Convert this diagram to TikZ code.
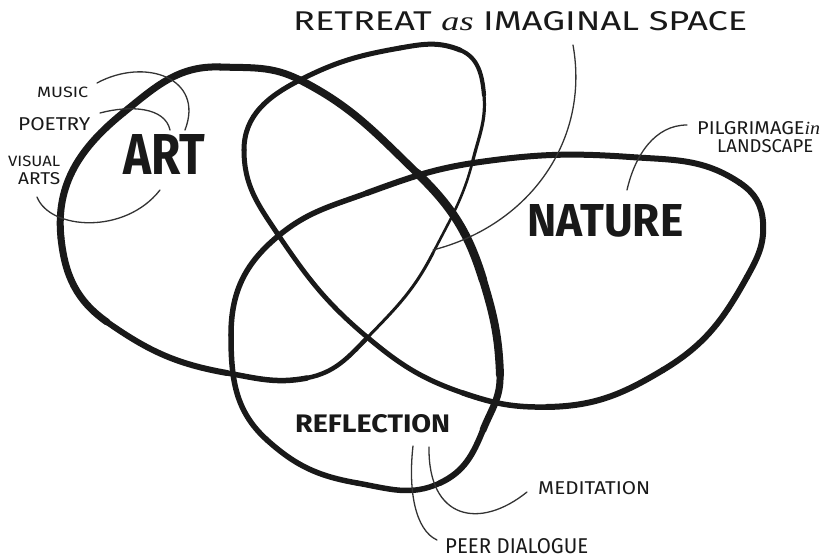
\documentclass[tikz,border=0pt]{standalone}
\usepackage{fontspec}
\setmainfont{Fira Sans}
\newfontfamily\cursivef{Liberation Serif}
\usepackage{graphicx}
\begin{document}
\begin{tikzpicture}[x=1pt,y=1pt,
  loopline/.style={line width=#1, line cap=round, draw=black!90},
  callout/.style={line width=1.3pt, draw=black!80, line cap=round},
  lbl/.style={inner sep=0pt, anchor=base west, text=black!90}]
\useasboundingbox (0,0) rectangle (823,560);
\fill[white] (0,0) rectangle (823,560);
% points of the single four-lobed curve
\coordinate (A1) at (61,322);
\coordinate (A2) at (107,238);
\coordinate (A3) at (227,187);
\coordinate (A4) at (307,182);
\coordinate (A5) at (367,222);
\coordinate (T1) at (433,307);
\coordinate (T2) at (473,400);
\coordinate (T3) at (484,465);
\coordinate (T4) at (460,510);
\coordinate (T5) at (400,512);
\coordinate (T6) at (300,480);
\coordinate (T7) at (244,410);
\coordinate (T8) at (277,327);
\coordinate (T9) at (367,223);
\coordinate (N1) at (463,167);
\coordinate (N2) at (547,153);
\coordinate (N3) at (663,190);
\coordinate (N4) at (747,283);
\coordinate (N5) at (763,338);
\coordinate (N6) at (740,377);
\coordinate (N7) at (630,403);
\coordinate (N8) at (480,398);
\coordinate (N9) at (367,367);
\coordinate (N10) at (277,323);
\coordinate (R1) at (231,225);
\coordinate (R2) at (267,120);
\coordinate (R3) at (357,77);
\coordinate (R4) at (440,77);
\coordinate (R5) at (483,130);
\coordinate (D1) at (500,185);
\coordinate (D2) at (483,280);
\coordinate (D3) at (417,387);
\coordinate (D4) at (300,480);
\coordinate (A6) at (220,493);
\coordinate (A7) at (123,447);
% curve segments
\draw[loopline=7pt] (A1) to[out=276,in=145] (A2);
\draw[loopline=6pt] (A2) to[out=-35,in=170] (A3);
\draw[loopline=5.5pt] (A3) to[out=-10,in=191] (A4);
\draw[loopline=4.5pt] (A4) to[out=11,in=226] (A5);
\draw[loopline=3pt] (A5) to[out=46,in=243] (T1);
\draw[loopline=2.6pt] (T1) to[out=63,in=256] (T2);
\draw[loopline=3.2pt] (T2) to[out=76,in=275] (T3);
\draw[loopline=4.2pt] (T3) to[out=95,in=338] (T4);
\draw[loopline=5pt] (T4) to[out=158,in=10] (T5);
\draw[loopline=5pt] (T5) to[out=190,in=27] (T6);
\draw[loopline=5pt] (T6) to[out=207,in=90] (T7);
\draw[loopline=5pt] (T7) to[out=270,in=124] (T8);
\draw[loopline=4.8pt] (T8) to[out=-56,in=140] (T9);
\draw[loopline=5pt] (T9) to[out=-40,in=161] (N1);
\draw[loopline=5.5pt] (N1) to[out=-19,in=181] (N2);
\draw[loopline=6pt] (N2) to[out=1,in=211] (N3);
\draw[loopline=6pt] (N3) to[out=31,in=241] (N4);
\draw[loopline=6pt] (N4) to[out=61,in=274] (N5);
\draw[loopline=6pt] (N5) to[out=94,in=326] (N6);
\draw[loopline=6pt] (N6) to[out=146,in=356] (N7);
\draw[loopline=6pt] (N7) to[out=176,in=8] (N8);
\draw[loopline=6pt] (N8) to[out=188,in=20] (N9);
\draw[loopline=5.5pt] (N9) to[out=200,in=40] (N10);
\draw[loopline=5.5pt] (N10) to[out=220,in=90] (R1);
\draw[loopline=5.5pt] (R1) to[out=270,in=138] (R2);
\draw[loopline=5.5pt] (R2) to[out=-42,in=170] (R3);
\draw[loopline=5.5pt] (R3) to[out=-10,in=205] (R4);
\draw[loopline=6pt] (R4) to[out=25,in=248] (R5);
\draw[loopline=7pt] (R5) to[out=68,in=272] (D1);
\draw[loopline=8pt] (D1) to[out=92,in=287] (D2);
\draw[loopline=8.5pt] (D2) to[out=107,in=316] (D3);
\draw[loopline=7.5pt] (D3) to[out=136,in=333] (D4);
\draw[loopline=7pt] (D4) to[out=153,in=358] (A6);
\draw[loopline=7pt] (A6) to[out=178,in=39] (A7);
\draw[loopline=7pt] (A7) to[out=219,in=96] (A1);
% labels
\node[lbl] (retreat) at (293,529) {\resizebox{454pt}{19pt}{RETREAT {\cursivef\itshape as} IMAGINAL SPACE}};
\node[lbl] (music) at (37,462) {\resizebox{51pt}{10.5pt}{MUSIC}};
\node[lbl] (poetry) at (18,429) {\resizebox{72pt}{13pt}{POETRY}};
\node[lbl] (visual) at (8,393) {\resizebox{52pt}{10.5pt}{VISUAL}};
\node[lbl] (arts) at (18,375) {\resizebox{42pt}{12pt}{ARTS}};
\node[lbl] (art) at (123,385) {\resizebox{82pt}{40pt}{\bfseries ART}};
\node[lbl] (nature) at (527,323) {\resizebox{156pt}{32pt}{\bfseries NATURE}};
\node[lbl] (pilgrim) at (697,425) {\resizebox{123pt}{13pt}{PILGRIMAGE{\cursivef\itshape in}}};
\node[lbl] (landscape) at (717,407) {\resizebox{96pt}{13pt}{LANDSCAPE}};
\node[lbl] (reflection) at (295,127) {\resizebox{155pt}{18pt}{\bfseries REFLECTION}};
\node[lbl] (meditation) at (538,65) {\resizebox{112pt}{13pt}{MEDITATION}};
\node[lbl] (peer) at (445,6) {\resizebox{143pt}{15pt}{PEER DIALOGUE}};
% callout lines
\coordinate (mu1) at (97,477);   \coordinate (mu2) at (185,430);
\coordinate (po1) at (100,447);  \coordinate (po2) at (170,430);
\coordinate (va1) at (37,363);   \coordinate (va2) at (160,370);
\coordinate (re1) at (573,515);  \coordinate (re2) at (433,310);
\coordinate (pi1) at (687,435);  \coordinate (pi2) at (627,370);
\coordinate (me1) at (429,113);  \coordinate (me2) at (527,68);
\coordinate (pe1) at (413,114);  \coordinate (pe2) at (437,20);
\draw[callout] (mu1) .. controls (145,503) and (205,482) .. (mu2);
\draw[callout] (po1) .. controls (130,455) and (165,453) .. (po2);
\draw[callout] (va1) .. controls (50,330) and (125,325) .. (va2);
\draw[callout] (re1) .. controls (590,420) and (530,335) .. (re2);
\draw[callout] (pi1) .. controls (655,435) and (635,405) .. (pi2);
\draw[callout] (me1) .. controls (428,40) and (480,30) .. (me2);
\draw[callout] (pe1) .. controls (408,70) and (415,30) .. (pe2);
\end{tikzpicture}
\end{document}
